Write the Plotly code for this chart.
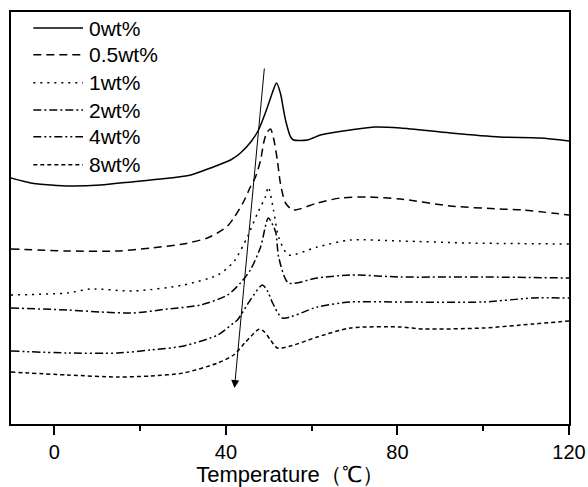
import plotly.graph_objects as go

# Temperature (°C) and heat-flow (arbitrary units, curves offset)
names = ["0wt%", "0.5wt%", "1wt%", "2wt%", "4wt%", "8wt%"]

t_0 = [-10.1, -5.5, -0.8, 3.8, 10.8, 17.8, 24.8, 31.8, 36.4, 41.1, 43.4, 45.8, 47.6, 49.7,
       50.9, 51.8, 52.7, 53.9, 55.1, 55.8, 59.0, 62.0, 64.4, 69.0, 74.8, 80.7, 92.3, 103.9, 113.2, 120.0]
y_0 = [246, 241, 239, 238, 239, 242, 245, 249, 256, 264, 271, 282, 294, 317,
       332, 341, 331, 304, 287, 284, 284, 289, 291, 294, 297, 296, 291, 287, 286, 283]

t_05 = [-10.1, 3.1, 14.8, 22.5, 30.1, 35.7, 38.0, 40.4, 42.0, 44.1, 45.7, 46.9, 48.1, 48.8, 49.5,
        50.4, 51.1, 52.0, 52.7, 53.9, 55.7, 61.3, 66.7, 73.0, 80.7, 92.3, 103.9, 109.3, 120.0]
y_05 = [175, 173, 173, 176, 180, 186, 191, 198, 207, 222, 237, 247, 264, 281, 291,
        295, 286, 264, 241, 221, 214, 221, 226, 227, 225, 218, 215, 214, 209]

t_1 = [-10.1, 3.1, 8.5, 18.5, 30.1, 38.1, 41.8, 45.0, 47.4, 49.2, 49.9, 51.1, 52.3, 54.6,
       61.3, 69.0, 80.7, 96.3, 120.0]
y_1 = [129, 131, 135, 133, 139, 149, 162, 187, 211, 227, 237, 214, 187, 169,
       177, 184, 183, 181, 180]

t_2 = [-10.1, 3.1, 10.8, 18.5, 26.4, 34.1, 40.4, 43.4, 45.7, 48.1, 49.9, 51.6, 52.3, 54.6,
       61.3, 69.0, 80.7, 100.0, 120.0]
y_2 = [116, 114, 112, 111, 115, 119, 129, 141, 154, 177, 206, 192, 167, 141,
       146, 149, 147, 147, 146]

t_4 = [-10.1, 3.1, 14.8, 22.5, 30.1, 38.1, 41.8, 42.7, 45.7, 48.5, 49.7, 50.9, 53.2,
       61.3, 69.0, 80.7, 100.0, 111.6, 120.0]
y_4 = [73, 71, 71, 74, 78, 89, 101, 104, 124, 139, 133, 121, 106,
       117, 122, 122, 122, 126, 126]

t_8 = [-10.1, 3.1, 14.8, 22.5, 30.1, 38.1, 41.8, 44.6, 47.8, 49.0, 50.4, 52.0, 55.1,
       61.3, 69.0, 80.7, 86.1, 100.0, 111.6, 120.0]
y_8 = [52, 49, 47, 48, 51, 61, 69, 82, 95, 92, 84, 76, 78,
       87, 96, 97, 95, 96, 100, 103]

temps = [t_0, t_05, t_1, t_2, t_4, t_8]
flows = [y_0, y_05, y_1, y_2, y_4, y_8]

# arrow: tail (T, y) -> head (T, y)
arrow_tail = (49.0, 357)
arrow_head = (42.0, 36)

x_ticks = [0, 40, 80, 120]

dashes = ["solid", "8px,5px", "2px,5px", "8px,3px,2px,3px", "8px,3px,2px,3px,2px,3px", "4px,3px"]
FONT = "Liberation Sans, Arial, sans-serif"

fig = go.Figure()
for n, t, y, d in zip(names, temps, flows, dashes):
    fig.add_trace(go.Scatter(x=t, y=y, mode="lines", name=n, showlegend=False,
                             line=dict(color="black", width=1.5, dash=d,
                                       shape="spline", smoothing=0.7)))

fig.add_annotation(x=arrow_head[0], y=arrow_head[1], ax=arrow_tail[0], ay=arrow_tail[1],
                   xref="x", yref="y", axref="x", ayref="y", text="", showarrow=True,
                   arrowhead=2, arrowsize=1.6, arrowwidth=1, arrowcolor="black")

# manual legend
row_y = [0.961, 0.896, 0.828, 0.762, 0.697, 0.629]
for n, d, ry in zip(names, dashes, row_y):
    fig.add_shape(type="line", xref="paper", yref="paper", x0=0.040, x1=0.129, y0=ry, y1=ry,
                  line=dict(color="black", width=1.5, dash=d))
    fig.add_annotation(xref="paper", yref="paper", x=0.137, y=ry, text=n, showarrow=False,
                       xanchor="left", yanchor="middle", font=dict(size=21, color="black", family=FONT))

fig.update_layout(
    width=588, height=487,
    margin=dict(l=11, r=19, t=12, b=63, autoexpand=False),
    paper_bgcolor="white", plot_bgcolor="white",
    font=dict(family=FONT, color="black", size=20),
    showlegend=False,
)
fig.update_xaxes(range=[-10.1, 120], tickvals=x_ticks, ticks="outside", ticklen=9, tickwidth=1.5,
                 tickcolor="black", showline=True, linewidth=1.5, linecolor="black", mirror=True,
                 showgrid=False, zeroline=False, tickfont=dict(size=20), automargin=False,
                 minor=dict(dtick=20, tick0=0, ticks="outside", ticklen=5, tickwidth=1.5, tickcolor="black"),
                 title=dict(text="Temperature（℃）", font=dict(size=22), standoff=2))
fig.update_yaxes(range=[0, 412], showticklabels=False, ticks="", showline=True, linewidth=1.5,
                 linecolor="black", mirror=True, showgrid=False, zeroline=False, automargin=False)

fig.write_html("out.html", config={"displayModeBar": False},
               post_script="document.body.style.margin='0';document.body.style.overflow='hidden';")
